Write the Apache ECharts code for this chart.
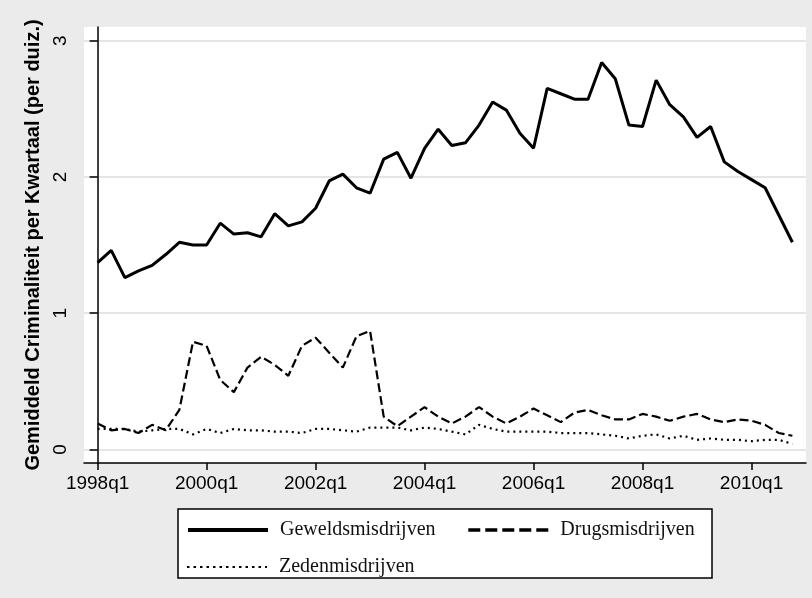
<!DOCTYPE html>
<html>
<head>
<meta charset="utf-8">
<script src="https://cdn.jsdelivr.net/npm/echarts@6/dist/echarts.min.js"></script>
<style>
html, body { margin: 0; padding: 0; background: #ebebeb; }
#chart { width: 812px; height: 598px; }
</style>
</head>
<body>
<div id="chart"></div>
<script>
// kwartalen 1998q1 .. 2010q4
const quarters = [
    '1998q1', '1998q2', '1998q3', '1998q4', '1999q1', '1999q2', '1999q3', '1999q4',
    '2000q1', '2000q2', '2000q3', '2000q4', '2001q1', '2001q2', '2001q3', '2001q4',
    '2002q1', '2002q2', '2002q3', '2002q4', '2003q1', '2003q2', '2003q3', '2003q4',
    '2004q1', '2004q2', '2004q3', '2004q4', '2005q1', '2005q2', '2005q3', '2005q4',
    '2006q1', '2006q2', '2006q3', '2006q4', '2007q1', '2007q2', '2007q3', '2007q4',
    '2008q1', '2008q2', '2008q3', '2008q4', '2009q1', '2009q2', '2009q3', '2009q4',
    '2010q1', '2010q2', '2010q3', '2010q4'
];
const xTickLabels = ['1998q1', '2000q1', '2002q1', '2004q1', '2006q1', '2008q1', '2010q1'];
const yTicks = [0, 1, 2, 3];

const geweld = [
    1.37, 1.46, 1.26, 1.31, 1.35, 1.43, 1.52, 1.50, 1.50, 1.66, 1.58, 1.59, 1.56,
    1.73, 1.64, 1.67, 1.77, 1.97, 2.02, 1.92, 1.88, 2.13, 2.18, 1.99, 2.21, 2.35,
    2.23, 2.25, 2.38, 2.55, 2.49, 2.32, 2.21, 2.65, 2.61, 2.57, 2.57, 2.84, 2.72,
    2.38, 2.37, 2.71, 2.53, 2.44, 2.29, 2.37, 2.11, 2.04, 1.98, 1.92, 1.72, 1.52
];
const drugs = [
    0.19, 0.14, 0.15, 0.12, 0.18, 0.14, 0.29, 0.79, 0.76, 0.51, 0.42, 0.60, 0.68,
    0.62, 0.54, 0.76, 0.82, 0.71, 0.60, 0.83, 0.87, 0.24, 0.17, 0.24, 0.31, 0.24,
    0.19, 0.24, 0.31, 0.24, 0.19, 0.24, 0.30, 0.25, 0.20, 0.27, 0.29, 0.25, 0.22,
    0.22, 0.26, 0.24, 0.21, 0.24, 0.26, 0.22, 0.20, 0.22, 0.21, 0.18, 0.12, 0.10
];
const zeden = [
    0.15, 0.15, 0.15, 0.13, 0.14, 0.15, 0.15, 0.11, 0.15, 0.12, 0.15, 0.14, 0.14,
    0.13, 0.13, 0.12, 0.15, 0.15, 0.14, 0.13, 0.16, 0.16, 0.16, 0.14, 0.16, 0.15,
    0.13, 0.11, 0.18, 0.15, 0.13, 0.13, 0.13, 0.13, 0.12, 0.12, 0.12, 0.11, 0.10,
    0.08, 0.10, 0.11, 0.08, 0.10, 0.07, 0.08, 0.07, 0.07, 0.06, 0.07, 0.07, 0.04
];

const xTickIndex = xTickLabels.map(function (l) { return quarters.indexOf(l); });

function toPoints(values) {
    return values.map(function (v, i) { return [i, v]; });
}

// legenda: lijn zonder symbool
const legendText = { fontFamily: 'Liberation Serif', fontSize: 20, color: '#111', padding: [0, 0, 0, 7] };
const noSymbol = { color: 'rgba(0,0,0,0)', borderWidth: 0, opacity: 0 };

let myChart = echarts.init(document.getElementById('chart'));

let option = {
    backgroundColor: '#ebebeb',
    animation: false,
    grid: {
        left: 84,
        top: 27,
        right: 6,
        bottom: 135,
        show: true,
        backgroundColor: '#fff',
        borderWidth: 0
    },
    xAxis: {
        type: 'value',
        min: -1,
        max: quarters.length,
        axisLine: { onZero: false, lineStyle: { color: '#000', width: 1.5 } },
        axisTick: { customValues: xTickIndex, length: 7, lineStyle: { color: '#000', width: 1.5 } },
        axisLabel: {
            customValues: xTickIndex,
            formatter: function (v) { return quarters[v]; },
            margin: 11,
            color: '#000',
            fontSize: 19,
            fontFamily: 'Liberation Sans'
        },
        splitLine: { show: false }
    },
    yAxis: {
        type: 'value',
        min: -0.1,
        max: 3.1,
        name: 'Gemiddeld Criminaliteit per Kwartaal (per duiz.)',
        nameLocation: 'middle',
        nameGap: 39,
        nameTextStyle: {
            color: '#000',
            fontSize: 20,
            fontWeight: 'bold',
            fontFamily: 'Liberation Sans'
        },
        axisLine: { show: true, lineStyle: { color: '#000', width: 1.5 } },
        axisTick: { show: true, customValues: yTicks, length: 8, lineStyle: { color: '#000', width: 1.5 } },
        axisLabel: {
            customValues: yTicks,
            rotate: 90,
            margin: 14,
            color: '#000',
            fontSize: 19,
            fontFamily: 'Liberation Sans'
        },
        splitLine: { show: true, lineStyle: { color: '#dcdcdc', width: 1.5 } }
    },
    graphic: [{
        type: 'rect',
        z: 0,
        shape: { x: 178, y: 509, width: 534, height: 69 },
        style: { fill: '#fff', stroke: '#000', lineWidth: 1.5 }
    }],
    legend: [{
        left: 186,
        top: 520,
        padding: 0,
        itemWidth: 80,
        itemHeight: 20,
        itemGap: 31,
        selectedMode: false,
        textStyle: legendText,
        itemStyle: noSymbol,
        data: [
            { name: 'Geweldsmisdrijven', lineStyle: { width: 4, type: 'solid' } },
            { name: 'Drugsmisdrijven', lineStyle: { width: 3.5, type: [12, 5] } }
        ]
    }, {
        left: 186,
        top: 557,
        padding: 0,
        itemWidth: 80,
        itemHeight: 20,
        selectedMode: false,
        textStyle: legendText,
        itemStyle: noSymbol,
        data: [
            { name: 'Zedenmisdrijven', lineStyle: { width: 2, type: [2.5, 4] } }
        ]
    }],
    series: [{
        name: 'Geweldsmisdrijven',
        type: 'line',
        symbol: 'none',
        lineStyle: { color: '#000', width: 3 },
        itemStyle: { color: '#000' },
        data: toPoints(geweld)
    }, {
        name: 'Drugsmisdrijven',
        type: 'line',
        symbol: 'none',
        lineStyle: { color: '#000', width: 2.2, type: [9, 4] },
        itemStyle: { color: '#000' },
        data: toPoints(drugs)
    }, {
        name: 'Zedenmisdrijven',
        type: 'line',
        symbol: 'none',
        lineStyle: { color: '#000', width: 2.2, type: [2, 4] },
        itemStyle: { color: '#000' },
        data: toPoints(zeden)
    }]
};

myChart.setOption(option);
</script>
</body>
</html>
